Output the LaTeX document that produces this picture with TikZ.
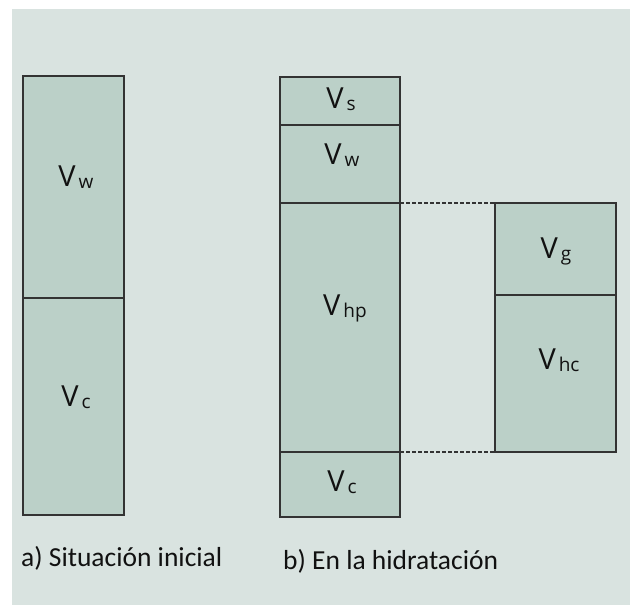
\documentclass[tikz,border=0pt]{standalone}
\usepackage{fontspec}
\setmainfont{Carlito}
\newfontfamily\volfont{Open Sans}
\usepackage{tikz}

\definecolor{bg_col}{HTML}{D9E3E0}
\definecolor{part_col}{HTML}{BBD0C8}
\definecolor{line_col}{HTML}{333333}
\definecolor{text_col}{HTML}{111111}

\newcommand{\vol}[1]{V\hspace{3pt}\raisebox{-2.5pt}{\fontsize{19}{19}\selectfont #1}}

\begin{document}
\begin{tikzpicture}[x=1pt, y=-1pt,
		part_style/.style={rectangle,draw=line_col,fill=part_col,line width=1.4pt,
			inner sep=0pt,outer sep=0pt,anchor=north west},
		dot_style/.style={draw=line_col,line width=1.4pt,dash pattern=on 3.5pt off 2.5pt},
		vol_style/.style={anchor=base,inner sep=0pt,text=text_col,font=\volfont\fontsize{29}{29}\selectfont},
		cap_style/.style={anchor=base west,inner sep=0pt,text=text_col,font=\fontsize{27.5}{27.5}\selectfont}]
		
		\useasboundingbox (0,0) rectangle (630,605);
		\fill[bg_col] (12,9) rectangle (630,605);
		
		% a) situacion inicial
		\node[part_style,minimum width=101pt,minimum height=222pt] (aw) at (23,76)  {};
		\node[part_style,minimum width=101pt,minimum height=217pt] (ac) at (23,298) {};
		
		% b) en la hidratacion
		\node[part_style,minimum width=120pt,minimum height=48pt]  (bs)  at (280,77)  {};
		\node[part_style,minimum width=120pt,minimum height=78pt]  (bw)  at (280,125) {};
		\node[part_style,minimum width=120pt,minimum height=249pt] (bhp) at (280,203) {};
		\node[part_style,minimum width=120pt,minimum height=65pt]  (bc)  at (280,452) {};
		
		\node[part_style,minimum width=121pt,minimum height=92pt]  (cg)  at (495,203) {};
		\node[part_style,minimum width=121pt,minimum height=157pt] (chc) at (495,295) {};
		
		\draw[dot_style] (bhp.north east) -- (cg.north west);
		\draw[dot_style] (bhp.south east) -- (chc.south west);
		
		% labels
		\node[vol_style] (l_aw)  at (76,186)  {\vol{w}};
		\node[vol_style] (l_ac)  at (76,406)  {\vol{c}};
		\node[vol_style] (l_bs)  at (341,108) {\vol{s}};
		\node[vol_style] (l_bw)  at (342,164) {\vol{w}};
		\node[vol_style] (l_bhp) at (345,315) {\vol{hp}};
		\node[vol_style] (l_bc)  at (342,491) {\vol{c}};
		\node[vol_style] (l_cg)  at (556,258) {\vol{g}};
		\node[vol_style] (l_chc) at (559,369) {\vol{hc}};
		
		\node[cap_style] (cap_a) at (21,566)  {a) Situación inicial};
		\node[cap_style] (cap_b) at (283,569) {b) En la hidratación};
		
\end{tikzpicture}
\end{document}
